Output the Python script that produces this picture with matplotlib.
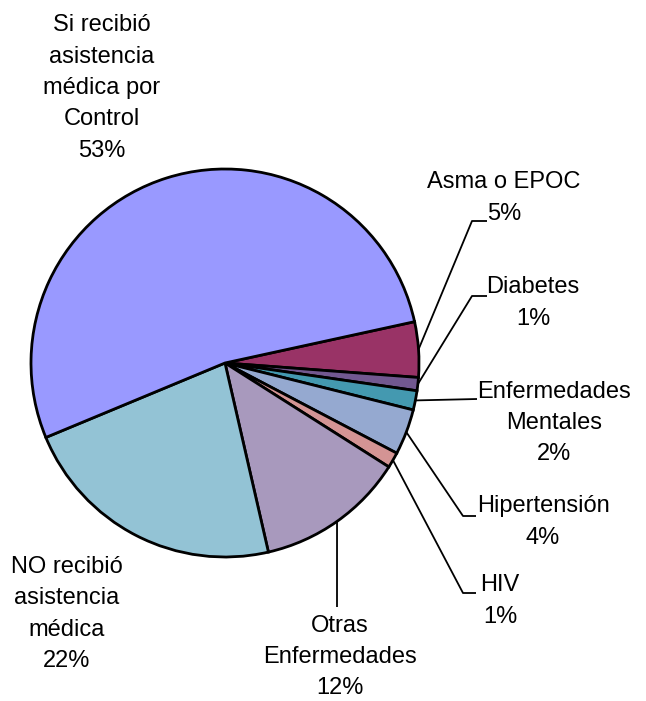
import numpy as np
import matplotlib
matplotlib.use('Agg')
import matplotlib.pyplot as plt

plt.rcParams['font.family'] = ['Liberation Sans', 'DejaVu Sans']

# slices, clockwise from Asma o EPOC
labels = ['Asma o EPOC', 'Diabetes', 'Enfermedades\nMentales', 'Hipertensión',
          'HIV', 'Otras\nEnfermedades', 'NO recibió\nasistencia\nmédica',
          'Si recibió\nasistencia\nmédica por\nControl']
values = [4.6, 1.1, 1.6, 3.8, 1.3, 12.4, 22.3, 52.8]
colors = ['#993366', '#725890', '#4499B0', '#95A9D0', '#D49494',
          '#A899BD', '#93C3D5', '#9999FF']

W, H = 646, 701
CX, CY, R = 225, 363, 194


def px(x, y):
    # pixel position -> data coords (pie radius = 1)
    return (x - CX) / R, (CY - y) / R


fig = plt.figure(figsize=(W / 100, H / 100), dpi=100)
ax = fig.add_axes([0, 0, 1, 1])

wedges, _ = ax.pie(values, colors=colors, startangle=12.3, counterclock=False,
                   radius=1, center=(0, 0), frame=True,
                   wedgeprops=dict(edgecolor='black', linewidth=2))
ax.set_xlim(px(0, 0)[0], px(W, 0)[0])
ax.set_ylim(px(0, H)[1], px(0, 0)[1])
ax.set_aspect('auto')
ax.axis('off')

# label text centre (pixels) and leader path after the wedge edge point
text_pos = [(504, 198), (533, 303), (554, 423), (543, 522),
            (500, 601), (340, 657), (67, 614), (102, 88)]
leaders = [[(472, 221), (487, 221)],
           [(472, 296), (487, 296)],
           [(477, 399)],
           [(463, 516), (476, 516)],
           [(463, 593), (476, 593)],
           [(337, 607)],
           None, None]

for w, lab, v, tp, path in zip(wedges, labels, values, text_pos, leaders):
    pct = '%d%%' % round(v)
    tx, ty = px(*tp)
    ax.text(tx, ty, lab + '\n' + pct, ha='center', va='center',
            fontsize=17, linespacing=1.55, color='black')
    if path:
        mid = np.deg2rad((w.theta1 + w.theta2) / 2)
        xs = [np.cos(mid)] + [px(*p)[0] for p in path]
        ys = [np.sin(mid)] + [px(*p)[1] for p in path]
        ax.plot(xs, ys, color='black', linewidth=1.3, solid_capstyle='butt')

fig.savefig('out.png', dpi=100)
